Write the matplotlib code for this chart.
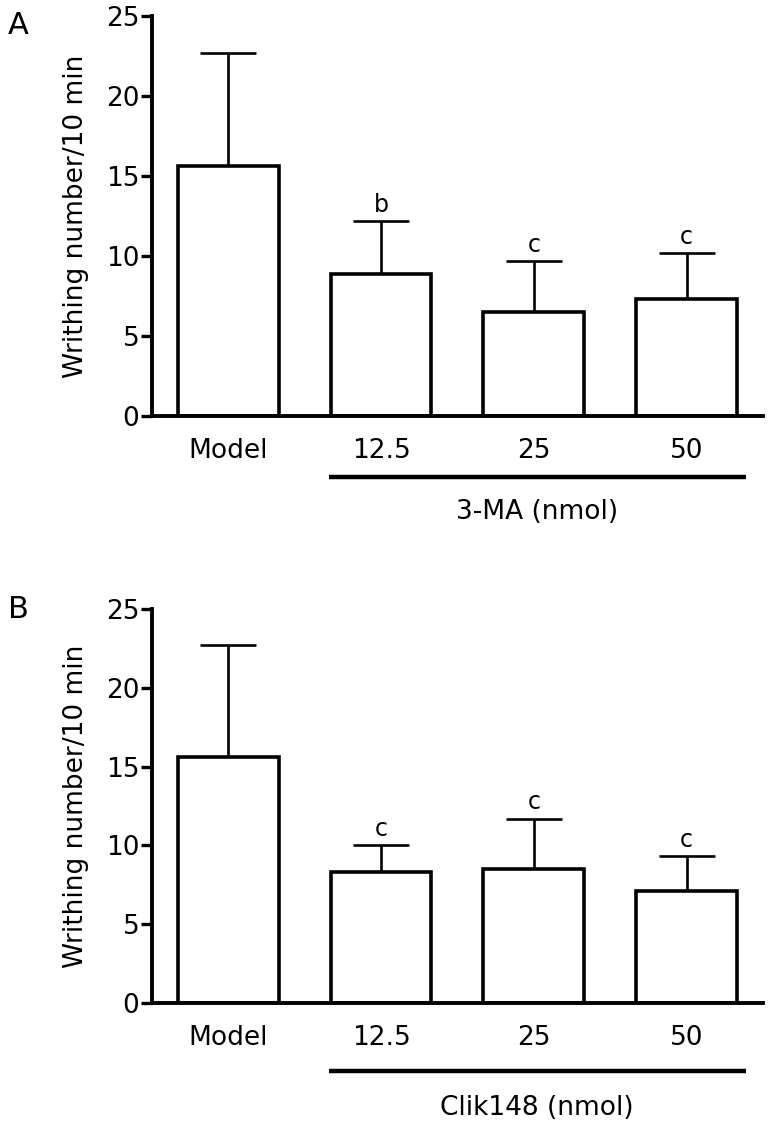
import matplotlib
matplotlib.use('Agg')
import matplotlib.pyplot as plt
import matplotlib.transforms as mtransforms
import numpy as np

# data
groups = ['Model', '12.5', '25', '50']
mean_a = [15.6, 8.9, 6.5, 7.3]
sem_a = [7.1, 3.3, 3.2, 2.9]
sig_a = ['', 'b', 'c', 'c']
mean_b = [15.6, 8.3, 8.5, 7.1]
sem_b = [7.1, 1.7, 3.2, 2.2]
sig_b = ['', 'c', 'c', 'c']
yticks = [0, 5, 10, 15, 20, 25]

plt.rcParams['font.family'] = ['DejaVu Sans']
plt.rcParams['font.size'] = 19

fig = plt.figure(figsize=(7.73, 11.32), dpi=100)
ax_a = fig.add_axes([0.1966, 0.6325, 0.7904, 0.3534])
ax_b = fig.add_axes([0.1966, 0.1140, 0.7904, 0.3480])


def draw_panel(ax, means, sems, sig, drug, letter, letter_y, line_y, text_y):
    x = np.arange(len(groups))
    ax.bar(x, means, width=0.66, color='white', edgecolor='black',
           linewidth=2.6, zorder=2)
    ax.errorbar(x, means, yerr=[np.zeros(len(sems)), sems], fmt='none',
                ecolor='black', elinewidth=1.9, capsize=20, capthick=1.9,
                zorder=1)
    for xi, m, s, t in zip(x, means, sems, sig):
        if t:
            ax.annotate(t, (xi, m + s), xytext=(0, 3), textcoords='offset points',
                        ha='center', va='bottom', fontsize=17)
    ax.set_xlim(-0.5, 3.5)
    ax.set_ylim(0, 25)
    ax.set_yticks(yticks)
    ax.set_xticks(x)
    ax.set_xticklabels(groups)
    ax.tick_params(axis='x', length=0, pad=16)
    ax.tick_params(axis='y', length=8, width=2.4, pad=1)
    for side in ['top', 'right']:
        ax.spines[side].set_visible(False)
    for side in ['left', 'bottom']:
        ax.spines[side].set_linewidth(2.8)
    ax.set_ylabel('Writhing number/10 min', labelpad=12)

    trans = mtransforms.blended_transform_factory(ax.transData, ax.transAxes)
    ax.plot([0.66, 3.39], [line_y, line_y], color='black', linewidth=3.2,
            transform=trans, clip_on=False, solid_capstyle='butt')
    ax.text(2.02, text_y, drug, transform=trans, ha='center', va='center')
    ax.text(-0.236, letter_y, letter, transform=ax.transAxes, fontsize=22,
            ha='left', va='center')


draw_panel(ax_a, mean_a, sem_a, sig_a, '3-MA (nmol)', 'A', 0.975, -0.152, -0.24)
draw_panel(ax_b, mean_b, sem_b, sig_b, 'Clik148 (nmol)', 'B', 1.0, -0.172, -0.266)

fig.savefig('out.png', dpi=100)
